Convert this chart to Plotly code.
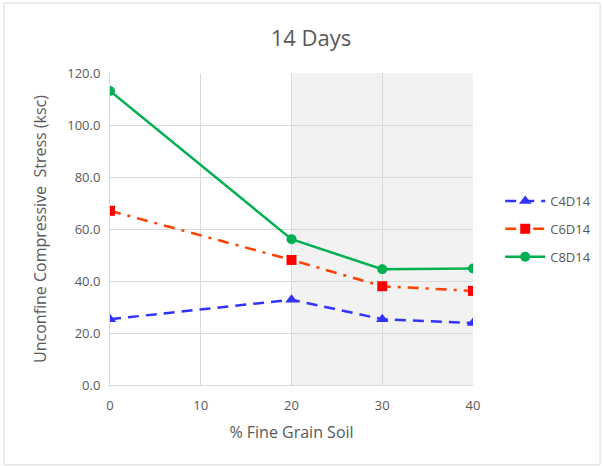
import plotly.graph_objects as go

# Fine grain soil content (%)
fine_pct = [0, 20, 30, 40]

# Unconfined compressive stress at 14 days (ksc)
c4d14 = [25.3, 32.8, 25.3, 23.8]
c6d14 = [67.0, 48.1, 38.0, 36.2]
c8d14 = [113.1, 56.1, 44.5, 44.8]

x_ticks = [0, 10, 20, 30, 40]
y_ticks = [0, 20, 40, 60, 80, 100, 120]
y_tick_text = ["0.0", "20.0", "40.0", "60.0", "80.0", "100.0", "120.0"]

FONT = "Open Sans, Noto Sans, sans-serif"
GREY_TXT = "#595959"

fig = go.Figure()

fig.add_trace(go.Scatter(
    x=fine_pct, y=c4d14, name="C4D14", mode="lines+markers",
    line=dict(color="#3333ff", width=2.5, dash="11px,7px"),
    marker=dict(symbol="triangle-up", size=11, color="#3333ff"),
    legendgroup="a",
))
fig.add_trace(go.Scatter(
    x=fine_pct, y=c6d14, name="C6D14", mode="lines+markers",
    line=dict(color="#ff4000", width=2.5, dash="11px,7px,3px,7px"),
    marker=dict(symbol="square", size=10, color="#ff0000"),
    legendgroup="b",
))
fig.add_trace(go.Scatter(
    x=fine_pct, y=c8d14, name="C8D14", mode="lines+markers",
    line=dict(color="#00b050", width=2.5),
    marker=dict(symbol="circle", size=10, color="#00b050"),
    legendgroup="c",
))

# Shaded band over the 20-40 % range
fig.add_shape(type="rect", xref="x", yref="y", x0=20, x1=40, y0=0, y1=120,
              fillcolor="#f2f2f2", line=dict(width=0), layer="below")

# Outer chart border
fig.add_shape(type="rect", xref="paper", yref="paper",
              x0=-0.292, x1=1.35, y0=-0.256, y1=1.224,
              line=dict(color="#d9d9d9", width=1), fillcolor="rgba(0,0,0,0)")

fig.update_layout(
    width=603, height=466,
    margin=dict(l=110, r=130, t=73, b=81, autoexpand=False),
    paper_bgcolor="white", plot_bgcolor="white",
    title=dict(text="14 Days", x=311 / 603, xanchor="center",
               y=1 - 38 / 466, yanchor="middle",
               font=dict(family=FONT, size=22, color=GREY_TXT)),
    font=dict(family=FONT, color=GREY_TXT),
    showlegend=True,
    legend=dict(x=1.075, y=0.5, xanchor="left", yanchor="middle",
                traceorder="grouped", tracegroupgap=8,
                font=dict(family=FONT, size=13, color=GREY_TXT),
                itemwidth=40, bgcolor="rgba(0,0,0,0)"),
    xaxis=dict(range=[0, 40], tickvals=x_ticks, ticktext=[str(v) for v in x_ticks],
               showgrid=True, gridcolor="#d9d9d9", gridwidth=1,
               showline=True, linecolor="#d9d9d9", linewidth=1, mirror=False,
               zeroline=False, ticks="", ticklabelstandoff=8,
               tickfont=dict(size=13, color=GREY_TXT),
               title=dict(text="% Fine Grain Soil", standoff=14,
                          font=dict(size=16, color=GREY_TXT))),
    yaxis=dict(range=[0, 120], tickvals=y_ticks, ticktext=y_tick_text,
               showgrid=True, gridcolor="#d9d9d9", gridwidth=1,
               showline=True, linecolor="#d9d9d9", linewidth=1,
               zeroline=False, ticks="", ticklabelstandoff=6,
               tickfont=dict(size=13, color=GREY_TXT),
               title=dict(text="Unconfine Compressive  Stress (ksc)", standoff=16,
                          font=dict(size=16, color=GREY_TXT))),
)

fig.write_html("out.html")
